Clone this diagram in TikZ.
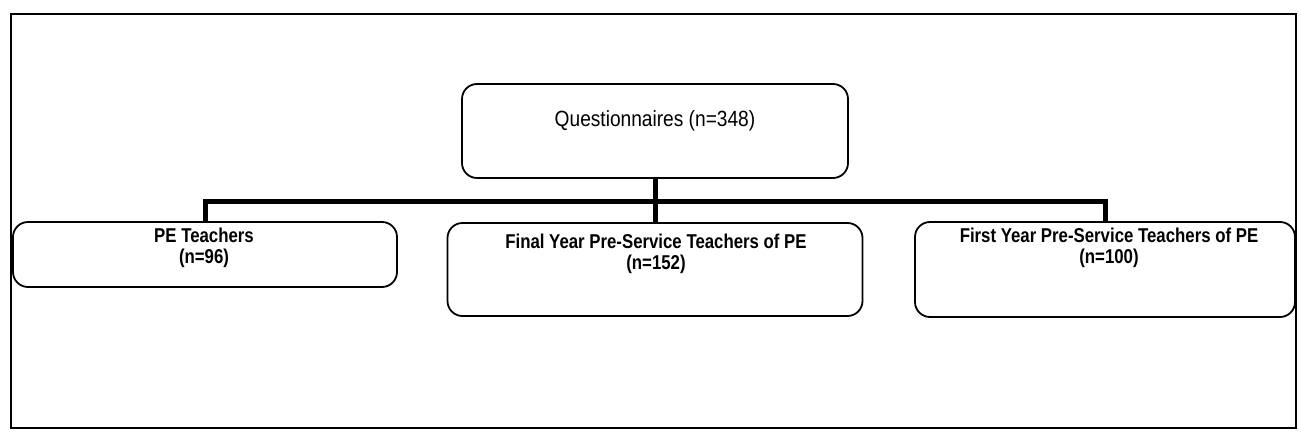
\documentclass[tikz,border=0pt]{standalone}
\usepackage{fontspec}
\setmainfont{Liberation Sans}
\newfontfamily\topfont[FakeStretch=0.87]{Liberation Sans}
\newfontfamily\subfont[FakeStretch=0.84]{Liberation Sans}
\begin{document}
\begin{tikzpicture}[x=1pt,y=-1pt,
  box/.style={draw=black, line width=1.8pt, rounded corners=15pt, inner sep=0pt},
  conn/.style={draw=black, line width=5pt},
  frame/.style={draw=black, line width=2pt},
  toptext/.style={font=\topfont\fontsize{22}{24}\selectfont, inner sep=0pt},
  subtext/.style={font=\subfont\bfseries\fontsize{20}{21}\selectfont, align=center, inner sep=0pt}]
  \useasboundingbox (0,0) rectangle (1301,434);
  % outer frame
  \draw[frame] (11,14) rectangle (1296,428);
  % boxes
  \node[box, minimum width=386pt, minimum height=94pt] (top) at (655,131) {};
  \node[box, minimum width=384pt, minimum height=65pt] (lft) at (205,254.5) {};
  \node[box, minimum width=415pt, minimum height=93pt] (mid) at (655,269.5) {};
  \node[box, minimum width=380pt, minimum height=95pt] (rgt) at (1105,269.5) {};
  % labels
  \node[toptext, anchor=base] (toplbl) at (655,126) {Questionnaires (n=348)};
  \node[subtext] (lftlbl) at (204,248) {PE Teachers\\(n=96)};
  \node[subtext] (midlbl) at (656,254) {Final Year Pre-Service Teachers of PE\\(n=152)};
  \node[subtext] (rgtlbl) at (1109,248) {First Year Pre-Service Teachers of PE\\(n=100)};
  % connectors
  \coordinate (bus) at (655,201);
  \draw[conn] (top.south) -- (mid.north);
  \draw[conn] (lft.north) |- (bus) -| (rgt.north);
\end{tikzpicture}
\end{document}
